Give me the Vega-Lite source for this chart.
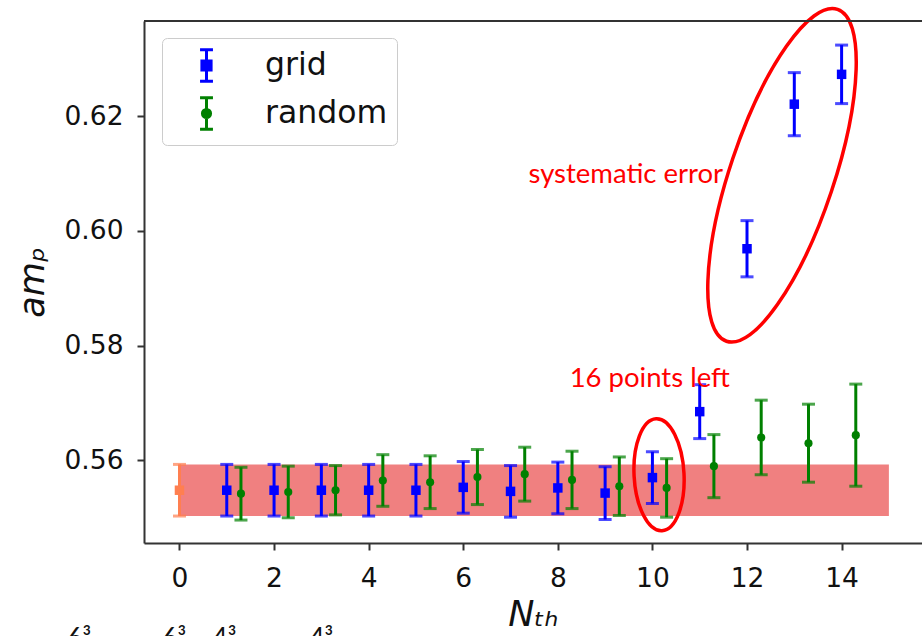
{
  "$schema": "https://vega.github.io/schema/vega-lite/v6.json",
  "width": 778,
  "height": 522,
  "autosize": {"type": "none"},
  "padding": {"left": 144, "top": 21, "right": 0, "bottom": 93},
  "background": "white",
  "datasets": {
    "measurements": [
      {"series": "grid", "x": 1, "y": 0.5548, "err": 0.0045},
      {"series": "grid", "x": 2, "y": 0.5548, "err": 0.0045},
      {"series": "grid", "x": 3, "y": 0.5548, "err": 0.0045},
      {"series": "grid", "x": 4, "y": 0.5548, "err": 0.0045},
      {"series": "grid", "x": 5, "y": 0.5548, "err": 0.0045},
      {"series": "grid", "x": 6, "y": 0.5553, "err": 0.0045},
      {"series": "grid", "x": 7, "y": 0.5546, "err": 0.0045},
      {"series": "grid", "x": 8, "y": 0.5552, "err": 0.0045},
      {"series": "grid", "x": 9, "y": 0.5543, "err": 0.0046},
      {"series": "grid", "x": 10, "y": 0.5570, "err": 0.0045},
      {"series": "grid", "x": 11, "y": 0.5685, "err": 0.0047},
      {"series": "grid", "x": 12, "y": 0.5969, "err": 0.0049},
      {"series": "grid", "x": 13, "y": 0.6221, "err": 0.0055},
      {"series": "grid", "x": 14, "y": 0.6273, "err": 0.0051},
      {"series": "random", "x": 1.3, "y": 0.5542, "err": 0.0046},
      {"series": "random", "x": 2.3, "y": 0.5545, "err": 0.0045},
      {"series": "random", "x": 3.3, "y": 0.5548, "err": 0.0043},
      {"series": "random", "x": 4.3, "y": 0.5565, "err": 0.0045},
      {"series": "random", "x": 5.3, "y": 0.5562, "err": 0.0046},
      {"series": "random", "x": 6.3, "y": 0.5571, "err": 0.0048},
      {"series": "random", "x": 7.3, "y": 0.5576, "err": 0.0047},
      {"series": "random", "x": 8.3, "y": 0.5566, "err": 0.0050},
      {"series": "random", "x": 9.3, "y": 0.5555, "err": 0.0051},
      {"series": "random", "x": 10.3, "y": 0.5552, "err": 0.0051},
      {"series": "random", "x": 11.3, "y": 0.5590, "err": 0.0055},
      {"series": "random", "x": 12.3, "y": 0.5640, "err": 0.0065},
      {"series": "random", "x": 13.3, "y": 0.5630, "err": 0.0068},
      {"series": "random", "x": 14.3, "y": 0.5644, "err": 0.0089}
    ],
    "reference": [
      {"x": 0, "y": 0.5548, "err": 0.0045}
    ]
  },
  "config": {
    "view": {"stroke": null},
    "axis": {
      "grid": false,
      "domainColor": "#333333",
      "domainWidth": 2,
      "tickColor": "#333333",
      "tickWidth": 2,
      "tickSize": 7,
      "labelFont": "DejaVu Sans",
      "labelFontSize": 26.5,
      "labelColor": "#111111",
      "labelFlush": false,
      "labelOverlap": false,
      "titleFont": "DejaVu Sans",
      "titleFontSize": 35,
      "titleFontStyle": "italic",
      "titleFontWeight": "normal",
      "titleColor": "#111111"
    }
  },
  "encoding": {
    "x": {
      "field": "x",
      "type": "quantitative",
      "scale": {"domain": [-0.75, 15.70], "nice": false, "zero": false},
      "axis": {"values": [0, 2, 4, 6, 8, 10, 12, 14], "format": "d", "labelPadding": 15, "titlePadding": 6, "title": "Nₜₕ"}
    },
    "y": {
      "field": "y",
      "type": "quantitative",
      "scale": {"domain": [0.5456, 0.6366], "nice": false, "zero": false},
      "axis": {"values": [0.56, 0.58, 0.60, 0.62], "format": ".2f", "labelPadding": 14, "titlePadding": 13, "title": "amₚ"}
    }
  },
  "layer": [
    {
      "description": "uncertainty band of the reference value",
      "data": {"values": [{"x": 0, "x2": 15, "y": 0.5503, "y2": 0.5593}]},
      "mark": {"type": "rect", "color": "#f08080", "opacity": 1},
      "encoding": {"x2": {"field": "x2"}, "y2": {"field": "y2"}}
    },
    {
      "data": {"name": "reference"},
      "mark": {"type": "errorbar", "ticks": true, "size": 13, "thickness": 3, "color": "#ff7f50"},
      "encoding": {"yError": {"field": "err"}}
    },
    {
      "data": {"name": "reference"},
      "mark": {"type": "point", "shape": "square", "size": 90, "filled": true, "opacity": 1, "color": "#ff7f50"}
    },
    {
      "data": {"name": "measurements"},
      "mark": {"type": "errorbar", "ticks": true, "size": 13, "thickness": 3},
      "encoding": {
        "yError": {"field": "err"},
        "color": {
          "field": "series",
          "type": "nominal",
          "scale": {"domain": ["grid", "random"], "range": ["#0000ff", "#008000"]},
          "legend": {
            "title": null,
            "orient": "none",
            "legendX": 18,
            "legendY": 17,
            "symbolSize": 1156,
            "symbolStrokeWidth": 3,
            "symbolOffset": 17,
            "labelFont": "DejaVu Sans",
            "labelFontSize": 31.5,
            "labelColor": "#111111",
            "labelOffset": 40,
            "padding": 9,
            "rowPadding": 3,
            "strokeColor": "#cccccc",
            "fillColor": "rgba(255,255,255,0.8)",
            "cornerRadius": 5,
            "encode": {
              "symbols": {
                "update": {
                  "shape": [
                    {"test": "datum.value === 'grid'", "value": "M -0.38 -0.92 L 0.38 -0.92 M 0 -0.92 L 0 0.92 M -0.38 0.92 L 0.38 0.92 M -0.27 -0.27 L 0.27 -0.27 L 0.27 0.27 L -0.27 0.27 Z"},
                    {"value": "M -0.38 -0.92 L 0.38 -0.92 M 0 -0.92 L 0 0.92 M -0.38 0.92 L 0.38 0.92 M 0.24 0 C 0.24 0.1325 0.1325 0.24 0 0.24 C -0.1325 0.24 -0.24 0.1325 -0.24 0 C -0.24 -0.1325 -0.1325 -0.24 0 -0.24 C 0.1325 -0.24 0.24 -0.1325 0.24 0 Z"}
                  ],
                  "fill": [{"test": "datum.value === 'grid'", "value": "#0000ff"}, {"value": "#008000"}],
                  "stroke": [{"test": "datum.value === 'grid'", "value": "#0000ff"}, {"value": "#008000"}],
                  "strokeWidth": {"value": 3},
                  "opacity": {"value": 1},
                  "fillOpacity": {"value": 1},
                  "strokeOpacity": {"value": 1}
                }
              }
            }
          }
        }
      }
    },
    {
      "data": {"name": "measurements"},
      "transform": [{"filter": "datum.series === 'grid'"}],
      "mark": {"type": "point", "shape": "square", "size": 90, "filled": true, "opacity": 1, "color": "#0000ff"}
    },
    {
      "data": {"name": "measurements"},
      "transform": [{"filter": "datum.series === 'random'"}],
      "mark": {"type": "point", "shape": "circle", "size": 66, "filled": true, "opacity": 1, "color": "#008000"}
    },
    {
      "description": "ellipse around the outliers",
      "data": {"values": [{"x": 12.74, "y": 0.6097}]},
      "mark": {
        "type": "point",
        "shape": "M 0.297 0 C 0.297 0.5523 0.164 1 0 1 C -0.164 1 -0.297 0.5523 -0.297 0 C -0.297 -0.5523 -0.164 -1 0 -1 C 0.164 -1 0.297 -0.5523 0.297 0 Z",
        "size": 122500,
        "angle": 18.5,
        "filled": false,
        "color": "#ff0000",
        "strokeWidth": 3.5,
        "opacity": 1
      }
    },
    {
      "description": "ellipse around the last kept point",
      "data": {"values": [{"x": 10.14, "y": 0.5575}]},
      "mark": {
        "type": "point",
        "shape": "M 0.446 0 C 0.446 0.5523 0.2466 1 0 1 C -0.2466 1 -0.446 0.5523 -0.446 0 C -0.446 -0.5523 -0.2466 -1 0 -1 C 0.2466 -1 0.446 -0.5523 0.446 0 Z",
        "size": 12544,
        "angle": -3,
        "filled": false,
        "color": "#ff0000",
        "strokeWidth": 3.5,
        "opacity": 1
      }
    },
    {
      "data": {"values": [
        {"x": 7.38, "y": 0.6084, "label": "systematic error"},
        {"x": 8.25, "y": 0.5728, "label": "16 points left"}
      ]},
      "mark": {"type": "text", "align": "left", "baseline": "alphabetic", "font": "Lato", "fontSize": 27.5, "color": "#ff0000"},
      "encoding": {"text": {"field": "label"}}
    },
    {
      "description": "top frame line",
      "data": {"values": [{"x": -0.75, "x2": 15.70, "y": 0.6366}]},
      "mark": {"type": "rule", "color": "#333333", "strokeWidth": 2},
      "encoding": {"x2": {"field": "x2"}}
    },
    {
      "description": "caption line below the figure",
      "data": {"values": [
        {"x": -2.37, "y": 0.5311, "label": "6³"},
        {"x": -0.36, "y": 0.5311, "label": "6³"},
        {"x": 0.70, "y": 0.5311, "label": "4³"},
        {"x": 2.75, "y": 0.5311, "label": "4³"}
      ]},
      "mark": {"type": "text", "align": "left", "baseline": "top", "font": "Lato", "fontSize": 26, "color": "#111111"},
      "encoding": {"text": {"field": "label"}}
    }
  ]
}
